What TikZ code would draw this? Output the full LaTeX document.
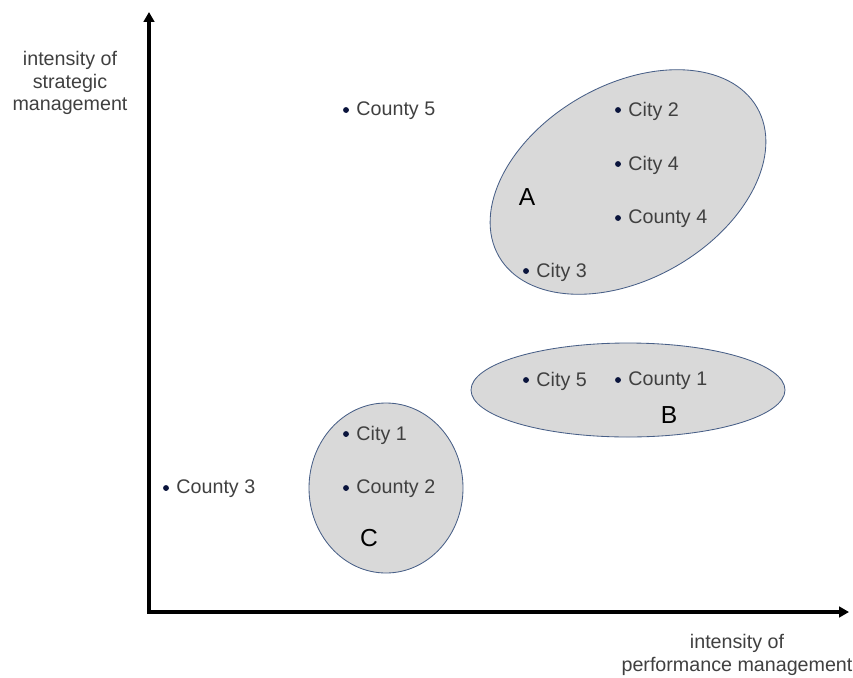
\documentclass[tikz,border=0pt]{standalone}
\usepackage{fontspec}
\setmainfont{Liberation Sans}
\usetikzlibrary{arrows.meta}
\definecolor{grpfill}{RGB}{217,217,217}
\definecolor{grpline}{RGB}{72,95,135}
\definecolor{dotcol}{RGB}{10,20,60}
\definecolor{txtcol}{RGB}{64,64,64}
\begin{document}
\begin{tikzpicture}[x = 0.025cm, y = -0.025cm,
	font = \fontsize{14}{15.8}\selectfont,
	grp/.style = {fill=grpfill, draw=grpline, line width=0.6pt},
	axis/.style = {line width=2.5pt, -{Triangle[length=7pt,width=7.5pt]}},
	pt/.style = {circle, fill=dotcol, inner sep=0pt, minimum size=4.2pt},
	lbl/.style = {text=txtcol, label distance=1.6pt, yshift=-0.7pt},
	grplbl/.style = {font=\fontsize{17.5}{17.5}\selectfont, text=black}]
	\useasboundingbox (0,0) rectangle (853,677);
	
	% clusters
	\filldraw[grp, rotate around={30:(628,182)}] (628,182) ellipse (149 and 97);
	\filldraw[grp] (628,390) ellipse (157 and 47);
	\filldraw[grp] (386,488) ellipse (77 and 85);
	
	% axes
	\coordinate (o) at (149,612);
	\coordinate (ytop) at (149,12);
	\coordinate (xend) at (849,612);
	\draw[axis] ([yshift=-1.25pt]o) -- (ytop);
	\draw[axis] ([xshift=-1.25pt]o) -- (xend);
	
	\node[text=txtcol, align=center] (ylab) at (70,83) {intensity of\\strategic\\management};
	\node[text=txtcol, align=center] (xlab) at (737,655) {intensity of\\performance management};
	
	% units
	\node[pt, label={[lbl]right:County 5}] (county5) at (346,110) {};
	\node[pt, label={[lbl]right:City 2}] (city2) at (618,110) {};
	\node[pt, label={[lbl]right:City 4}] (city4) at (618,164) {};
	\node[pt, label={[lbl]right:County 4}] (county4) at (618,218) {};
	\node[pt, label={[lbl]right:City 3}] (city3) at (526,271) {};
	\node[pt, label={[lbl]right:City 5}] (city5) at (526,380) {};
	\node[pt, label={[lbl]right:County 1}] (county1) at (618,380) {};
	\node[pt, label={[lbl]right:City 1}] (city1) at (346,434) {};
	\node[pt, label={[lbl]right:County 2}] (county2) at (346,488) {};
	\node[pt, label={[lbl]right:County 3}] (county3) at (166,488) {};
	
	\node[grplbl] (grpA) at (527,197) {A};
	\node[grplbl] (grpB) at (669,415) {B};
	\node[grplbl] (grpC) at (369,538) {C};
\end{tikzpicture}
\end{document}
